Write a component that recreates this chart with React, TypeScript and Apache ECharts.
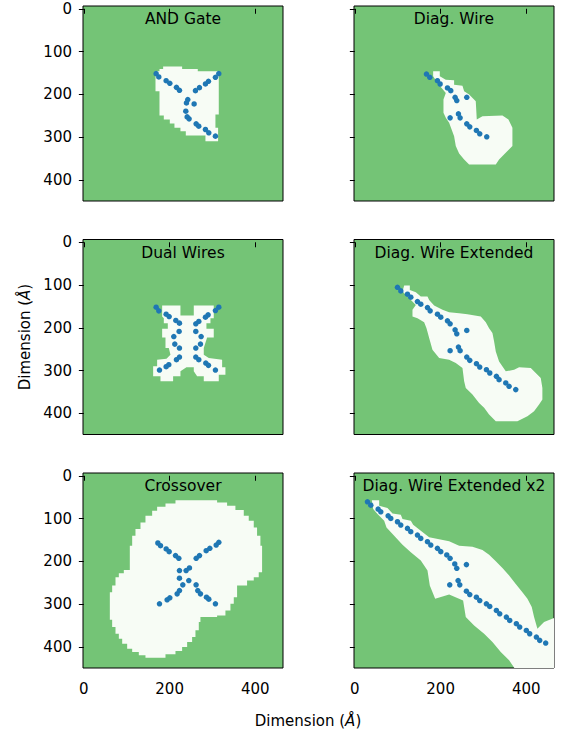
import React, { useEffect, useRef } from 'react';
import * as echarts from 'echarts';

const TITLES = ['AND Gate', 'Diag. Wire', 'Dual Wires', 'Diag. Wire Extended', 'Crossover', 'Diag. Wire Extended x2'];
const X_TICKS = [0, 200, 400];
const Y_TICKS = [0, 100, 200, 300, 400];

const AND_DOTS = [
  [168.6, 151.7], [174.8, 159.5], [191.9, 168.1], [200.5, 174.3], [216, 183.6], [223, 190.6],
  [314.7, 151.7], [306.9, 160.3], [290.6, 169.6], [283.6, 175.8], [269.6, 184.4], [260.3, 191.4],
  [242.4, 212.4], [239.3, 220.1], [257.2, 222.5], [237.8, 239.5], [240.9, 252.8], [245.5, 257.4],
  [261.9, 269.1], [268, 274.5], [283.6, 282.3], [291.4, 290.1], [306.9, 297.8],
];
const AND_MASK = [
  [176.4, 249.6], [186.5, 249.6], [186.5, 259], [200.5, 259], [200.5, 268.3], [211.3, 268.3],
  [211.3, 278.4], [225.3, 278.4], [225.3, 286.2], [237.8, 286.2], [237.8, 296.3], [283.6, 296.3],
  [283.6, 309.5], [313.1, 309.5], [313.1, 278.4], [306.9, 278.4], [306.9, 247.3], [314.7, 247.3],
  [314.7, 146.3], [265.7, 146.3], [265.7, 140.9], [229.2, 140.9], [229.2, 134.7], [184.9, 134.7],
  [184.9, 140.9], [176.4, 140.9], [176.4, 146.3], [167.1, 146.3], [167.1, 192.9], [176.4, 192.9],
];

const DIAG_DOTS = [
  [167, 152.6], [174.8, 160.3], [192.6, 168.1], [198.9, 175.9], [216, 185.2], [223.7, 191.4],
  [233.8, 207], [237.7, 214.7], [261, 207], [241.6, 245.8], [245.5, 255.1], [222.2, 255.1],
  [261, 269.1], [268, 276.1], [283.5, 284.6], [291.3, 292.4], [307.6, 299.4],
];
const DIAG_MASK = [
  [182.6, 146.3], [198.1, 146.3], [198.1, 158], [212.1, 165.7], [231.5, 167.3], [231.5, 177.4],
  [251, 179.7], [254.9, 192.9], [266.5, 200.7], [282, 216.2], [284.4, 258.9], [297.6, 251.2],
  [344.2, 249.6], [358.2, 258.9], [367.5, 278.4], [367.5, 321.1], [355.9, 332.8], [336.4, 352.2],
  [328.7, 363.9], [266.5, 363.9], [254.9, 352.2], [243.2, 338.2], [235.4, 321.1], [231.5, 297.8],
  [219.9, 266.7], [212.1, 255.1], [206.7, 243.4], [206.7, 212.4], [212.1, 196.8], [200.5, 182.8],
  [190.4, 169.6], [182.6, 158],
];

const DUAL_DOTS = [
  [168.6, 151.8], [174.8, 160.4], [191.9, 168.1], [198.9, 173.6], [214.5, 182.9], [223, 189.1],
  [314.7, 151.8], [306.9, 159.6], [289.8, 169.7], [283.6, 175.1], [268.1, 185.2], [261.1, 190.7],
  [222.2, 208.5], [209.8, 220.5], [212.1, 238.1], [223, 247.4],
  [261.1, 208.5], [273.5, 220.5], [272, 238.1], [261.1, 247.4],
  [223, 268.4], [216, 274.6], [198.1, 286.2], [191.9, 290.9], [176.4, 298.7],
  [261.1, 268.4], [268.1, 274.6], [284.4, 282.4], [290.6, 287.8], [306.9, 298.7],
];
const DUAL_MASK = [
  [182.6, 147.9], [225.3, 147.9], [225.3, 171.2], [256.4, 171.2], [256.4, 147.9], [303, 147.9],
  [303, 177.5], [295.3, 177.5], [295.3, 189.1], [285.9, 189.1], [285.9, 202.3], [303, 202.3],
  [303, 222.5], [287.5, 222.5], [279.7, 247.4], [279.7, 262.9], [291.4, 270.7], [322.5, 274.6],
  [322.5, 292.5], [330.2, 292.5], [330.2, 309.6], [314.7, 309.6], [314.7, 325.1], [279.7, 325.1],
  [279.7, 313.4], [264.2, 313.4], [256.4, 301.8], [256.4, 292.5], [239.3, 292.5], [225.3, 301.8],
  [225.3, 313.4], [208.2, 313.4], [208.2, 325.1], [178.7, 325.1], [178.7, 313.4], [161.6, 313.4],
  [161.6, 290.1], [170.9, 290.1], [170.9, 274.6], [192.7, 272.2], [202, 262.9], [198.1, 247.4],
  [190.4, 247.4], [190.4, 222.5], [182.6, 222.5], [182.6, 202.3], [195.8, 202.3], [195.8, 189.1],
  [186.5, 189.1], [186.5, 177.5], [182.6, 173.6],
];

const DIAGEXT_DOTS = [
  [99.4, 105.2], [107.2, 113.7], [122.7, 121.5], [130.5, 128.5], [146, 138.6], [153.8, 144.8],
  [169.4, 152.6], [175.6, 160.4], [192.7, 168.1], [200.4, 175.1], [216, 183.7], [222.2, 190.7],
  [233.8, 204.7], [237.7, 214], [261, 206.2], [241.6, 245], [245.5, 253.6], [222.2, 253.6],
  [261, 268.4], [268, 276.1], [283.6, 283.9], [291.3, 291.7], [306.9, 297.9], [314.7, 305.7],
  [330.2, 313.4], [336.4, 321.2], [352, 329], [359.7, 336.7], [375.3, 344.5],
];
const DIAGEXT_MASK = [
  [115, 101.3], [128.2, 101.3], [128.2, 111.4], [142.2, 116.9], [153.8, 127], [169.4, 127],
  [173.3, 134.7], [184.9, 147.9], [204.4, 158], [219.9, 163.5], [243.2, 165.8], [262.6, 168.1],
  [293.7, 173.6], [305.4, 186.8], [313.1, 200.8], [320.9, 212.4], [324.8, 232], [328.7, 255.2],
  [336.4, 278.5], [352, 301.8], [371.4, 297.9], [383.1, 292.5], [410.3, 294], [421.9, 305.7],
  [433.6, 317.3], [437.4, 340.6], [437.4, 367.8], [429.7, 379.5], [418, 395], [402.5, 406.7],
  [379.2, 418.3], [328.7, 418.3], [313.1, 402.8], [301.5, 387.2], [289.8, 375.6], [274.3, 356.2],
  [258.7, 340.6], [254.9, 325.1], [251, 294], [235.4, 282.4], [219.9, 274.6], [196.6, 270.7],
  [181, 251.3], [173.3, 224.1], [167.1, 200.8], [161.6, 186.8], [146.1, 177.5], [134.4, 173.6],
  [134.4, 158], [142.2, 146.4], [122.8, 127], [111.1, 115.3],
];

const CROSS_DOTS = [
  [172.6, 157.2], [178.8, 163.4], [192, 171.2], [199, 177.4], [213.8, 186.7], [221.5, 192.9],
  [314.8, 155.6], [308.6, 161.9], [293.8, 169.6], [285.3, 175.1], [269.7, 186.7], [262, 192.9],
  [223, 221.7], [238.5, 221.7], [246.3, 215.5], [223, 239.6], [244.8, 245], [230.8, 255.1], [261.8, 255.1],
  [223, 268.3], [217.6, 276.1], [200.5, 285.4], [194.2, 290.1], [176.4, 299.4],
  [265.7, 268.3], [272, 276.1], [286, 283.9], [291.4, 288.5], [306.9, 299.4],
];
const CROSS_MASK = [
  [213.7, 57], [310.8, 57], [310.8, 62.4], [334.1, 62.4], [334.1, 70.2], [353.5, 70.2],
  [353.5, 80.3], [373, 80.3], [373, 93.5], [384.6, 93.5], [384.6, 105.1], [396.3, 105.1],
  [396.3, 120.7], [404, 120.7], [404, 140.1], [411.8, 140.1], [411.8, 163.4], [415.7, 163.4],
  [415.7, 225.6], [407.9, 225.6], [407.9, 237.3], [396.3, 237.3], [396.3, 245], [380.7, 245],
  [380.7, 256.7], [357.4, 256.7], [357.4, 283.9], [349.7, 283.9], [349.7, 299.4], [341.9, 299.4],
  [341.9, 314.9], [330.2, 314.9], [330.2, 326.6], [310.8, 326.6], [310.8, 330.5], [271.9, 330.5],
  [271.9, 342.1], [268.1, 342.1], [268.1, 361.5], [260.3, 361.5], [260.3, 377.1], [252.5, 377.1],
  [252.5, 388.7], [240.9, 388.7], [240.9, 400.4], [229.2, 400.4], [229.2, 409.7], [213.7, 409.7],
  [213.7, 417.5], [190.4, 417.5], [190.4, 425.3], [143.7, 425.3], [143.7, 419.8], [128.2, 419.8],
  [128.2, 412.1], [112.7, 412.1], [112.7, 404.3], [101, 404.3], [101, 392.6], [89.4, 392.6],
  [89.4, 381], [81.6, 381], [81.6, 369.3], [73.8, 369.3], [73.8, 353.8], [66, 353.8],
  [66, 336.7], [60.6, 336.7], [60.6, 272.2], [66, 272.2], [66, 256.7], [73.8, 256.7],
  [73.8, 237.2], [81.6, 237.2], [81.6, 228], [93.2, 228], [93.2, 220.1], [107.2, 220.1],
  [107.2, 163.4], [112.7, 163.4], [112.7, 140.1], [120.4, 140.1], [120.4, 124.6], [132.1, 124.6],
  [132.1, 109], [143.7, 109], [143.7, 93.5], [159.3, 93.5], [159.3, 81.8], [170.9, 81.8],
  [170.9, 72.5], [190.4, 72.5], [190.4, 64.7], [213.7, 64.7],
];

const DIAGX2_DOTS = [
  [29.4, 60.9], [37.2, 68.7], [54.3, 78], [60.5, 84.2], [77.6, 93.5], [83.8, 99.7],
  [99.4, 107.5], [107.1, 115.3], [122.7, 123], [130.4, 130.8], [146, 138.6], [153.7, 146.4],
  [169.3, 154.1], [177.1, 161.9], [192.6, 169.7], [200.4, 177.4], [214.4, 185.2], [222.1, 193],
  [233, 206.2], [237.7, 216.3], [260.2, 207.7], [240.8, 245], [244.7, 255.1], [221.3, 255.1],
  [260.2, 269.9], [268, 277.7], [283.5, 283.9], [291.3, 291.7], [306.8, 299.4], [314.6, 305.6],
  [330.1, 315], [337.9, 322.7], [353.4, 330.5], [361.2, 338.3], [376.7, 346], [384.5, 353.8],
  [400, 361.6], [407.8, 369.4], [423.4, 377.1], [431.1, 384.9], [445.1, 391.1],
];
const DIAGX2_MASK = [
  [39.6, 57], [56.7, 57], [56.7, 70.2], [76.1, 75.6], [87.8, 88], [107.2, 91.1],
  [111.1, 101.2], [130.5, 105.1], [136, 114.5], [153.8, 128.4], [173.3, 144], [219.9, 153.3],
  [243.2, 163.4], [274.3, 165.7], [297.6, 173.5], [313.1, 184.4], [328.7, 199.9], [344.2, 215.5],
  [359.8, 233.3], [375.3, 252.8], [390.8, 272.2], [402.5, 287.7], [412.6, 307.1], [418, 330.5],
  [425.8, 357.6], [441.3, 342.1], [470, 330.5], [470, 460], [379.2, 460], [359.8, 431.5],
  [340.3, 412.1], [320.9, 388.7], [301.5, 369.3], [278.2, 349.9], [258.7, 330.5], [252.5, 291.6],
  [219.9, 277.6], [187.3, 287.7], [174.8, 256.6], [169.4, 221.7], [153.8, 198.4], [130.5, 179],
  [111.1, 161.1], [91.7, 140.1], [73.8, 120.7], [68.4, 105.1], [52.8, 89.6], [42.7, 77.9],
];

const PANEL_DOTS = [AND_DOTS, DIAG_DOTS, DUAL_DOTS, DIAGEXT_DOTS, CROSS_DOTS, DIAGX2_DOTS];
const PANEL_MASKS = [AND_MASK, DIAG_MASK, DUAL_MASK, DIAGEXT_MASK, CROSS_MASK, DIAGX2_MASK];

const GREEN = '#74c476';
const PALE = '#f7fcf5';
const BLUE = '#1f77b4';
const FONT = 'DejaVu Sans';

const LEFTS = [83, 354];
const TOPS = [6, 239.5, 473];
const W = 200;
const H = 195;

export default function App() {
  const ref = useRef<HTMLDivElement>(null);
  useEffect(() => {
    const chart = echarts.init(ref.current as HTMLDivElement, null, { renderer: 'svg' });
    const grids: any[] = [];
    const xAxes: any[] = [];
    const yAxes: any[] = [];
    const series: any[] = [];
    const graphics: any[] = [];
    for (let i = 0; i < 6; i++) {
      const r = Math.floor(i / 2);
      const c = i % 2;
      grids.push({
        left: LEFTS[c], top: TOPS[r], width: W, height: H,
        show: true, backgroundColor: GREEN, borderColor: '#000', borderWidth: 1,
      });
      xAxes.push({
        type: 'value', gridIndex: i, min: -2, max: 464.5,
        axisLine: { show: false },
        splitLine: { show: false },
        axisTick: { show: true, length: 5, lineStyle: { color: '#000', width: 1 }, customValues: X_TICKS },
        axisLabel: {
          show: r === 2, customValues: X_TICKS, margin: 13,
          fontFamily: FONT, fontSize: 15, color: '#000',
        },
      });
      yAxes.push({
        type: 'value', gridIndex: i, min: -6.5, max: 449.5, inverse: true,
        axisLine: { show: false },
        splitLine: { show: false },
        axisTick: { show: true, length: 5, lineStyle: { color: '#000', width: 1 }, customValues: Y_TICKS },
        axisLabel: {
          show: c === 0, customValues: Y_TICKS, margin: 11,
          fontFamily: FONT, fontSize: 15, color: '#000',
        },
      });
      const mask = PANEL_MASKS[i];
      series.push({
        type: 'custom', xAxisIndex: i, yAxisIndex: i, clip: true, silent: true, z: 2,
        data: [[0, 0]],
        renderItem: (_p: any, api: any) => ({
          type: 'polygon',
          shape: { points: mask.map((pt) => api.coord(pt)) },
          style: { fill: PALE, stroke: null },
        }),
      });
      series.push({
        type: 'scatter', xAxisIndex: i, yAxisIndex: i, z: 3, silent: true,
        symbolSize: 5.5, itemStyle: { color: BLUE, opacity: 1 },
        data: PANEL_DOTS[i],
      });
      graphics.push({
        type: 'text',
        x: LEFTS[c] + W / 2, y: TOPS[r] + 13,
        style: {
          text: TITLES[i], fontFamily: FONT, fontSize: 15.5, fill: '#000',
          align: 'center', verticalAlign: 'middle',
        },
        z: 10,
      });
    }
    const rich = {
      a: { fontFamily: FONT, fontSize: 15, fill: '#000' },
      b: { fontFamily: FONT, fontSize: 15, fill: '#000', fontStyle: 'italic' },
    };
    graphics.push({
      type: 'text', x: 308, y: 721,
      style: { text: '{a|Dimension (}{b|Å}{a|)}', align: 'center', verticalAlign: 'middle', rich },
    });
    graphics.push({
      type: 'text', x: 25, y: 337, rotation: Math.PI / 2,
      style: { text: '{a|Dimension (}{b|Å}{a|)}', align: 'center', verticalAlign: 'middle', rich },
    });
    chart.setOption({
      animation: false,
      backgroundColor: '#fff',
      grid: grids,
      xAxis: xAxes,
      yAxis: yAxes,
      series,
      graphic: graphics,
    });
    return () => chart.dispose();
  }, []);
  return <div ref={ref} style={{ position: 'absolute', left: 0, top: 0, width: 561, height: 733 }} />;
}
